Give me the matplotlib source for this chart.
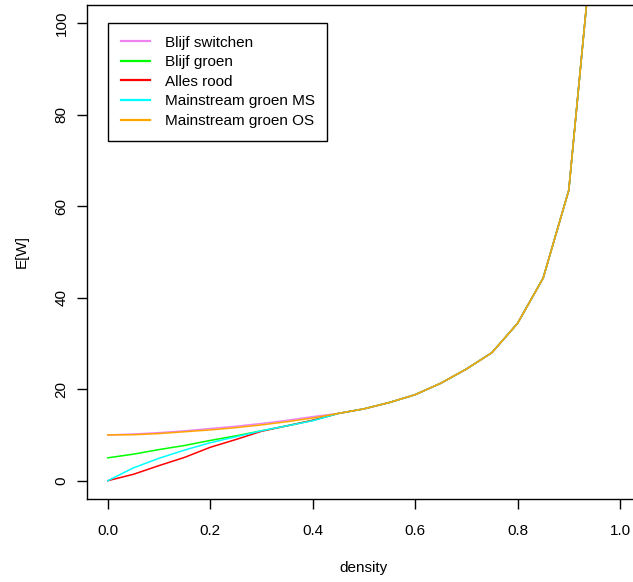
"""E[W] versus density for five strategies (R base-graphics look)."""

import matplotlib
matplotlib.use("Agg")
import matplotlib.pyplot as plt  # noqa: E402

plt.rcParams["font.family"] = ["Liberation Sans", "DejaVu Sans"]

# data
density = [0.00, 0.05, 0.10, 0.15, 0.20, 0.25, 0.30, 0.35, 0.40, 0.45,
           0.50, 0.55, 0.60, 0.65, 0.70, 0.75, 0.80, 0.85, 0.90, 0.95]
tail = [14.7, 15.7, 17.1, 18.8, 21.3, 24.4, 28.0, 34.4, 44.3, 63.5, 122.0]

blijf_switchen = [10.0, 10.2, 10.5, 10.9, 11.4, 11.9, 12.5, 13.2, 14.0] + tail
blijf_groen = [5.0, 5.8, 6.8, 7.7, 8.8, 9.8, 10.9, 12.0, 13.2] + tail
alles_rood = [0.0, 1.4, 3.3, 5.1, 7.3, 9.0, 10.8, 12.0, 13.2] + tail
mainstream_ms = [0.0, 2.8, 4.9, 6.7, 8.3, 9.6, 10.9, 12.0, 13.1] + tail
mainstream_os = [10.0, 10.05, 10.3, 10.7, 11.1, 11.6, 12.2, 12.9, 13.7] + tail

series = [
    ("Blijf switchen", blijf_switchen, "violet"),
    ("Blijf groen", blijf_groen, "#00FF00"),
    ("Alles rood", alles_rood, "#FF0000"),
    ("Mainstream groen MS", mainstream_ms, "#00FFFF"),
    ("Mainstream groen OS", mainstream_os, "#FFA500"),
]

W, H = 633, 582
fig = plt.figure(figsize=(W / 100, H / 100), dpi=100, facecolor="white")
# plot region in pixels: left 87.3, right 640.5 (past the image edge), top 4.9, bottom 499
ax = fig.add_axes([87.3 / W, (H - 499) / H, (640.5 - 87.3) / W, (499 - 4.9) / H])

for label, vals, col in series:
    ax.plot(density, vals, color=col, lw=1.1, label=label)

ax.set_xlim(-0.04, 1.04)
ax.set_ylim(-4, 104)
ax.set_xticks([0.0, 0.2, 0.4, 0.6, 0.8, 1.0])
ax.set_xticklabels(["0.0", "0.2", "0.4", "0.6", "0.8", "1.0"])
ax.set_yticks([0, 20, 40, 60, 80, 100])
for s in ax.spines.values():
    s.set_color("black"); s.set_linewidth(1.0)
ax.tick_params(axis="both", direction="out", length=7, width=1, color="black",
               labelsize=11, labelcolor="black")
ax.tick_params(axis="x", pad=11)
ax.tick_params(axis="y", pad=6.5, labelrotation=90)
for t in ax.get_yticklabels():
    t.set_va("center")

fig.text(363 / W, 1 - 568 / H, "density", ha="center", va="center", fontsize=11)
fig.text(22 / W, 1 - 252 / H, "E[W]", ha="center", va="center", fontsize=11,
         rotation=90)

leg = ax.legend(loc="upper left", bbox_to_anchor=(108 / W, 1 - 23 / H),
                bbox_transform=fig.transFigure, borderaxespad=0, fontsize=11,
                fancybox=False, framealpha=1, edgecolor="black",
                handlelength=1.96, handletextpad=0.92, labelspacing=0.37,
                borderpad=0.82)
leg.get_frame().set_linewidth(1.0)
for h in leg.get_lines():
    h.set_linewidth(1.6)

fig.savefig("out.png", dpi=100, facecolor="white")
